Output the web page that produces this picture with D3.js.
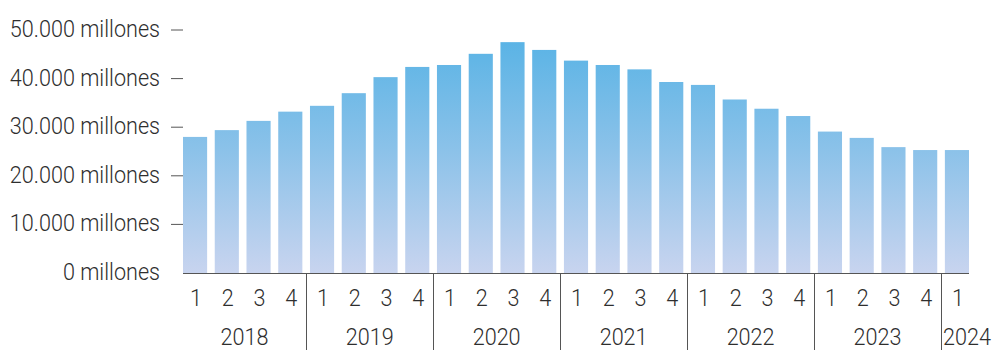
<!DOCTYPE html>
<html>
<head>
<meta charset="utf-8">
<script src="https://cdn.jsdelivr.net/npm/d3@7"></script>
<style>
  body { margin: 0; background: #fff; }
  svg text { font-family: Roboto, "Liberation Sans", Arial, sans-serif; font-weight: 300; fill: #2e2e2e; }
</style>
</head>
<body>
<svg width="994" height="350"></svg>
<script>
// quarterly values, millones
var years = ["2018", "2019", "2020", "2021", "2022", "2023", "2024"];
var quarters = ["1", "2", "3", "4"];
var values = [
  28000, 29400, 31300, 33200,
  34400, 37000, 40300, 42400,
  42800, 45100, 47500, 45900,
  43700, 42800, 41900, 39300,
  38700, 35700, 33800, 32300,
  29100, 27800, 25900, 25300,
  25300
];
var yTicks = [0, 10000, 20000, 30000, 40000, 50000];

var svg = d3.select("svg");
var squeeze = 0.9;   // fake a condensed face

var data = values.map(function(v, i) {
  return { key: i, year: years[Math.floor(i / 4)], q: quarters[i % 4], value: v };
});

var x = d3.scaleBand()
    .domain(data.map(function(d) { return d.key; }))
    .range([183, 969])
    .paddingInner(0.24)
    .paddingOuter(0);

var y = d3.scaleLinear().domain([0, 50000]).range([273, 30]);

var grad = svg.append("defs").append("linearGradient")
    .attr("id", "barGrad")
    .attr("gradientUnits", "userSpaceOnUse")
    .attr("x1", 0).attr("x2", 0)
    .attr("y1", y(50000)).attr("y2", y(0));
grad.append("stop").attr("offset", "0%").attr("stop-color", "#55b2e5");
grad.append("stop").attr("offset", "50%").attr("stop-color", "#8cc2e9");
grad.append("stop").attr("offset", "100%").attr("stop-color", "#c8d4ef");

// bars
svg.selectAll(".bar")
   .data(data)
   .enter().append("rect")
   .attr("class", "bar")
   .attr("x", function(d) { return x(d.key); })
   .attr("y", function(d) { return y(d.value); })
   .attr("width", x.bandwidth())
   .attr("height", function(d) { return y(0) - y(d.value); })
   .attr("fill", "url(#barGrad)");

function tr(px, py) { return "translate(" + px + "," + py + ") scale(" + squeeze + ",1)"; }

// y axis labels + small dashes
var fmt = function(v) { return d3.format(",")(v).replace(/,/g, ".") + " millones"; };
var yAxis = svg.append("g");
yAxis.selectAll("text")
   .data(yTicks)
   .enter().append("text")
   .attr("transform", function(d) { return tr(160, y(d) + 7); })
   .attr("text-anchor", "end")
   .attr("font-size", "24px")
   .text(fmt);
yAxis.selectAll("line")
   .data(yTicks.filter(function(d) { return d > 0; }))
   .enter().append("line")
   .attr("x1", 171).attr("x2", 183)
   .attr("y1", function(d) { return y(d); })
   .attr("y2", function(d) { return y(d); })
   .attr("stroke", "#555");

// baseline
var step = x.step(), gap = step - x.bandwidth();
svg.append("line")
   .attr("x1", x.range()[0]).attr("x2", x.range()[1])
   .attr("y1", y(0) + 0.5).attr("y2", y(0) + 0.5)
   .attr("stroke", "#555");

// quarter labels
svg.selectAll(".qlab")
   .data(data)
   .enter().append("text")
   .attr("class", "qlab")
   .attr("transform", function(d) { return tr(x(d.key) + x.bandwidth() / 2 + 1, 306); })
   .attr("text-anchor", "middle")
   .attr("font-size", "24px")
   .text(function(d) { return d.q; });

// year groups: separators and labels
var groups = years.map(function(yr, i) {
  var first = i * 4, last = Math.min(i * 4 + 3, values.length - 1);
  return { year: yr, x0: first === 0 ? x.range()[0] : x(first) - gap / 2,
           x1: last === values.length - 1 ? x.range()[1] : x(last) + x.bandwidth() + gap / 2,
           n: last - first + 1 };
});

svg.selectAll(".sep")
   .data(groups.slice(1))
   .enter().append("line")
   .attr("class", "sep")
   .attr("x1", function(d) { return Math.round(d.x0) + 0.5; })
   .attr("x2", function(d) { return Math.round(d.x0) + 0.5; })
   .attr("y1", y(0)).attr("y2", 350)
   .attr("stroke", "#555");

svg.selectAll(".ylab")
   .data(groups)
   .enter().append("text")
   .attr("class", "ylab")
   .attr("transform", function(d) { return tr(d.n < 4 ? d.x0 + 2 : (d.x0 + d.x1) / 2, 345); })
   .attr("text-anchor", function(d) { return d.n < 4 ? "start" : "middle"; })
   .attr("font-size", "24px")
   .text(function(d) { return d.year; });
</script>
</body>
</html>
